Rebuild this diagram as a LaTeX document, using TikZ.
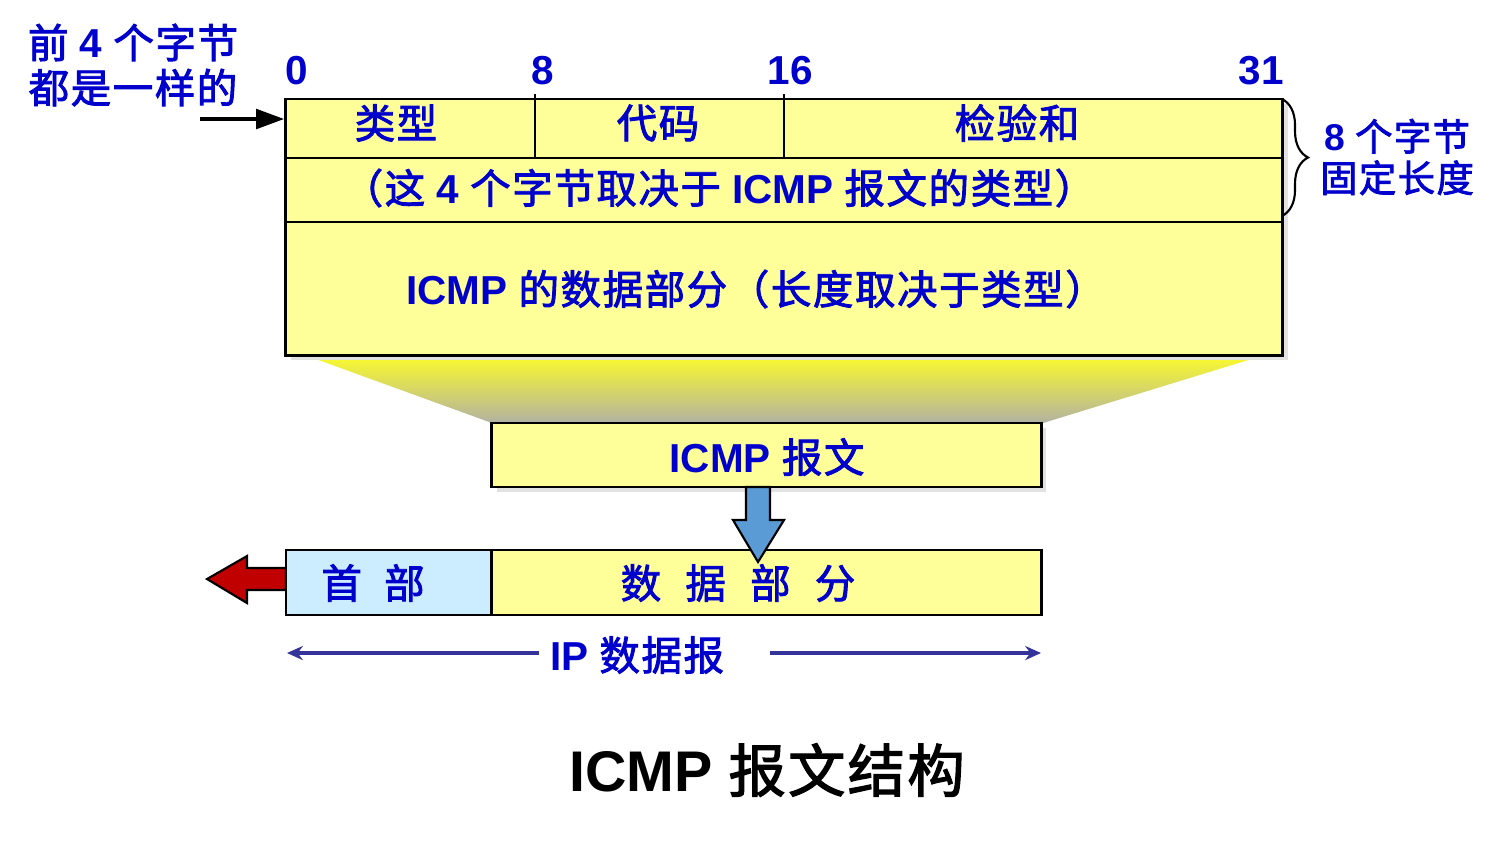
\documentclass[tikz,border=0pt]{standalone}
\usepackage{fontspec}
\setmainfont{Liberation Sans}
% CJK text in a medium weight: regular face, lightly emboldened
\newfontfamily\cjk{Noto Sans CJK SC}[BoldFont={Noto Sans CJK SC}, BoldFeatures={FakeBold=2.2}, LetterSpace=4]
\usetikzlibrary{arrows.meta,decorations.pathreplacing}

\definecolor{txtblue}{HTML}{0000CC}
\definecolor{boxyellow}{HTML}{FFFF99}
\definecolor{hdrblue}{HTML}{CCECFF}
\definecolor{shaftblue}{HTML}{5B9BD5}
\definecolor{darkred}{HTML}{C00000}
\definecolor{navy}{HTML}{333399}
\definecolor{shadowgray}{HTML}{E2E2E2}
\definecolor{funnelyellow}{HTML}{F8F830}
\definecolor{funnelgray}{HTML}{B2B2A2}

\tikzset{
  txt/.style={text=txtblue, inner sep=0pt, font=\bfseries\fontsize{11.5}{13}\selectfont},
  box/.style={draw=black, line width=0.8pt, fill=boxyellow, inner sep=0pt},
  rule/.style={draw=black, line width=0.8pt},
  outlined/.style={draw=black, line width=0.6pt},
  span/.style={draw=navy, line width=1.1pt, -{Stealth[length=4.5pt,width=4pt]}}
}

\begin{document}
\begin{tikzpicture}[x=0.01cm, y=-0.01cm]
\useasboundingbox (0,0) rectangle (1495,841);

% funnel from the message layout down to the ICMP message
\shade[top color=funnelyellow, bottom color=funnelgray]
  (313,358) -- (1255,358) -- (1043,423) -- (492,423) -- cycle;

% drop shadows
\fill[shadowgray] (291,104) rectangle (1288,360);
\fill[shadowgray] (497,428) rectangle (1046,492);

% ICMP message layout
\node[box, minimum width=9.96cm, minimum height=2.56cm] (layout) at (784,227) {};
\coordinate (row1) at (286,158);
\coordinate (row2) at (286,222);
\coordinate (row2e) at (1282,222);
\coordinate (bracetop) at (1282,99);
\coordinate (bracebot) at (1282,216);
\draw[rule] (row1) -- (row1 -| layout.east);
\draw[rule] (row2) -- (row2e);
\coordinate (tick8) at (535,94);
\coordinate (tick16) at (784,94);
\draw[rule] (tick8) -- (tick8 |- row1);
\draw[rule] (tick16) -- (tick16 |- row1);

\node[txt] (type) at (396,123) {\cjk 类型};
\node[txt] (code) at (658,123) {\cjk 代码};
\node[txt] (csum) at (1017,123) {\cjk 检验和};
\node[txt] (rest) at (719,188) {{\cjk （这} 4 {\cjk 个字节取决于} ICMP {\cjk 报文的类型）}};
\node[txt] (data) at (756,289) {ICMP {\cjk 的数据部分（长度取决于类型）}};

% bit positions
\node[txt] (b0) at (297,71) {0};
\node[txt] (b8) at (543,71) {8};
\node[txt] (b16) at (790,71) {16};
\node[txt] (b31) at (1261,71) {31};

% note on the first four bytes
\node[txt, align=center, font=\bfseries\fontsize{11.5}{12.8}\selectfont] (note) at (133,65)
  {{\cjk 前} 4 {\cjk 个字节}\\{\cjk 都是一样的}};
\coordinate (notearrow) at (200,119);
\draw[line width=1.2pt, -{Triangle[length=8pt,width=5.5pt]}] (notearrow) -- (notearrow -| layout.west);

% brace over the fixed 8-byte part
\draw[decorate, decoration={brace, amplitude=0.26cm}, line width=0.6pt]
  (bracetop) -- (bracebot);
\node[txt, align=center, font=\bfseries\fontsize{10.6}{11.8}\selectfont] (fixed) at (1397,157)
  {8 {\cjk 个字节}\\{\cjk 固定长度}};

% ICMP message
\node[box, minimum width=5.49cm, minimum height=0.64cm] (msg) at (766.5,455) {};
\node[txt] (msgtxt) at (767,457) {ICMP {\cjk 报文}};

% red arrow leaving the IP header
\draw[outlined, fill=darkred] (286,568) -- (247,568) -- (247,556) -- (207,579)
  -- (247,603) -- (247,590) -- (286,590) -- cycle;

% IP datagram
\node[box, fill=hdrblue, minimum width=2.06cm, minimum height=0.65cm] (iphdr) at (389,582.5) {};
\node[box, minimum width=5.49cm, minimum height=0.65cm] (ipdata) at (766.5,582.5) {};
\node[txt] (hdrtxt) at (373,583) {\cjk 首\hspace{0.55em}部};
\node[txt] (datatxt) at (738,583) {\cjk 数\hspace{0.6em}据\hspace{0.6em}部\hspace{0.6em}分};

% blue arrow: ICMP message goes into the data part
\draw[outlined, fill=shaftblue] (746,487) -- (746,520) -- (733,520) -- (758,562)
  -- (784,520) -- (770,520) -- (770,487) -- cycle;

% extent of the IP datagram
\node[txt] (ip) at (637,655) {IP {\cjk 数据报}};
\coordinate (ipL) at (287,653);
\coordinate (ipR) at (1041,653);
\draw[span] ([xshift=-0.1cm]ip.west |- ipL) -- (ipL);
\draw[span] ([xshift=0.45cm]ip.east |- ipR) -- (ipR);

% caption
\node[inner sep=0pt, font=\bfseries\fontsize{16.3}{18}\selectfont] (title) at (767,770)
  {ICMP {\cjk 报文结构}};
\end{tikzpicture}
\end{document}
